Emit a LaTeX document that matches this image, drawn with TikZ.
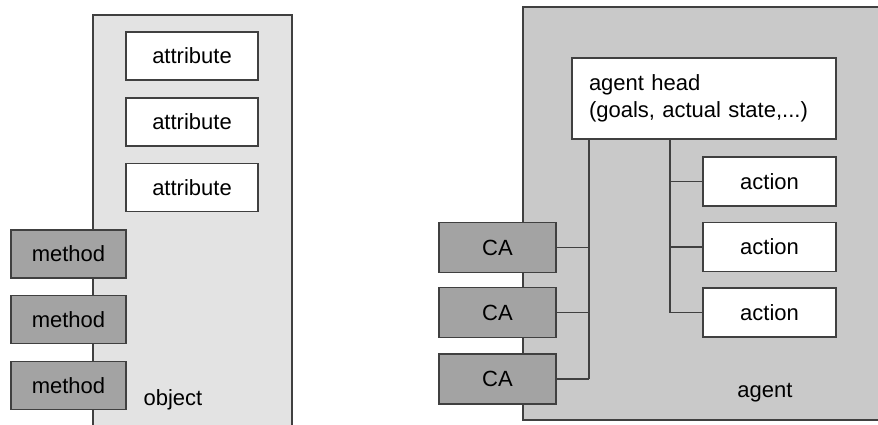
\documentclass[tikz,border=0pt]{standalone}
\usepackage{fontspec}
\setmainfont{Liberation Sans}
\definecolor{objfill}{HTML}{E3E3E3}
\definecolor{agfill}{HTML}{C9C9C9}
\definecolor{dkfill}{HTML}{A3A3A3}
\definecolor{edge}{HTML}{404040}
\begin{document}
\begin{tikzpicture}[
  x=1pt, y=-1pt,
  font=\fontsize{22}{27}\selectfont,
  box/.style={rectangle, draw=edge, line width=1.6pt, fill=white, inner sep=0pt},
  dark/.style={box, fill=dkfill},
  ln/.style={draw=edge, line width=1.6pt}
]
\useasboundingbox (0,0) rectangle (878,425);

% object panel (open at the bottom)
\fill[objfill] (93,15) rectangle (292,430);
\draw[ln] (93,430) -- (93,15) -- (292,15) -- (292,430);

% agent panel (runs past the right edge)
\fill[agfill] (523,7) rectangle (890,420);
\draw[ln] (890,7) -- (523,7) -- (523,420) -- (890,420);

% object
\node[box, minimum width=132pt, minimum height=48pt] (attr1) at (192,56) {attribute};
\node[box, minimum width=132pt, minimum height=48pt] (attr2) at (192,122) {attribute};
\node[box, minimum width=132pt, minimum height=48pt] (attr3) at (192,187.5) {attribute};
\node[dark, minimum width=115pt, minimum height=48pt] (meth1) at (68.5,254) {method};
\node[dark, minimum width=115pt, minimum height=48pt] (meth2) at (68.5,319.5) {method};
\node[dark, minimum width=115pt, minimum height=48pt] (meth3) at (68.5,385.5) {method};
\node (objlbl) at (173,400) {object};

% agent
\node[box, minimum width=264pt, minimum height=81pt, text width=230pt, align=left] (head) at (704,98.5)
  {agent head\\(goals, actual state,...)};
\coordinate (busL) at (589,379);
\coordinate (busR) at (670,312.5);

% bus lines
\draw[ln] (head.south -| busL) -- (busL);
\draw[ln] (head.south -| busR) -- (busR);

\node[dark, minimum width=117pt, minimum height=50pt] (ca1) at (497.5,247.5) {CA};
\node[dark, minimum width=117pt, minimum height=50pt] (ca2) at (497.5,312.5) {CA};
\node[dark, minimum width=117pt, minimum height=50pt] (ca3) at (497.5,379) {CA};
\node[box, minimum width=133pt, minimum height=49pt] (act1) at (769.5,181.5) {action};
\node[box, minimum width=133pt, minimum height=49pt] (act2) at (769.5,247) {action};
\node[box, minimum width=133pt, minimum height=49pt] (act3) at (769.5,312.5) {action};
\node (aglbl) at (765,393) {agent};

% branches
\foreach \i in {1,2,3} {
  \draw[ln] (ca\i.east) -- (ca\i.east -| busL);
  \draw[ln] (act\i.west -| busR) -- (act\i.west);
}
\end{tikzpicture}
\end{document}
